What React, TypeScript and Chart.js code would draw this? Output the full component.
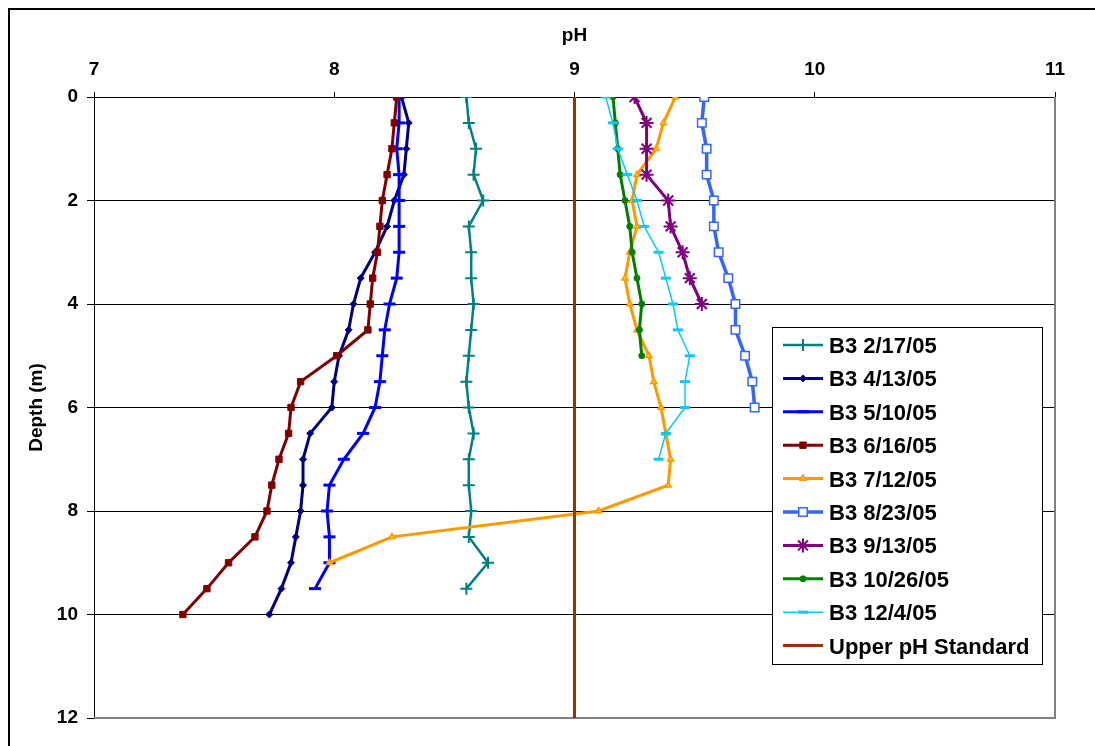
import React, { useEffect, useRef } from 'react';
import { Chart, registerables } from 'chart.js';
import { drawPoint } from 'chart.js/helpers';

Chart.register(...registerables);

// Depths (m) sampled every 0.5 m
const DEPTHS = [0, 0.5, 1, 1.5, 2, 2.5, 3, 3.5, 4, 4.5, 5, 5.5, 6, 6.5, 7, 7.5, 8, 8.5, 9, 9.5, 10];

const PH_0217 = [8.55, 8.56, 8.59, 8.58, 8.62, 8.56, 8.57, 8.57, 8.58, 8.57, 8.56, 8.55, 8.56, 8.58, 8.56, 8.56, 8.57, 8.56, 8.64, 8.55];
const PH_0413 = [8.28, 8.31, 8.30, 8.29, 8.25, 8.22, 8.17, 8.11, 8.08, 8.06, 8.02, 8.00, 7.99, 7.90, 7.87, 7.87, 7.86, 7.84, 7.82, 7.78, 7.73];
const PH_0510 = [8.27, 8.27, 8.26, 8.27, 8.27, 8.27, 8.27, 8.26, 8.23, 8.21, 8.20, 8.19, 8.17, 8.12, 8.04, 7.98, 7.97, 7.98, 7.98, 7.92];
const PH_0616 = [8.26, 8.25, 8.24, 8.22, 8.20, 8.19, 8.18, 8.16, 8.15, 8.14, 8.01, 7.86, 7.82, 7.81, 7.77, 7.74, 7.72, 7.67, 7.56, 7.47, 7.37];
const PH_0712 = [9.42, 9.37, 9.34, 9.26, 9.24, 9.26, 9.23, 9.21, 9.23, 9.26, 9.31, 9.33, 9.36, 9.38, 9.40, 9.39, 9.10, 8.24, 7.98];
const PH_0823 = [9.54, 9.53, 9.55, 9.55, 9.58, 9.58, 9.60, 9.64, 9.67, 9.67, 9.71, 9.74, 9.75];
const PH_0913 = [9.25, 9.30, 9.30, 9.30, 9.39, 9.40, 9.45, 9.48, 9.53];
const PH_1026 = [9.16, 9.17, 9.18, 9.19, 9.21, 9.23, 9.24, 9.26, 9.28, 9.27, 9.28];
const PH_1204 = [9.13, 9.16, 9.18, 9.22, 9.26, 9.29, 9.35, 9.38, 9.41, 9.43, 9.48, 9.46, 9.46, 9.38, 9.35];

const STANDARD_PH = [9, 9];
const STANDARD_DEPTH = [0, 12];

const LABELS = [
  'B3 2/17/05', 'B3 4/13/05', 'B3 5/10/05', 'B3 6/16/05', 'B3 7/12/05',
  'B3 8/23/05', 'B3 9/13/05', 'B3 10/26/05', 'B3 12/4/05', 'Upper pH Standard',
];

const X_TICKS = [7, 8, 9, 10, 11];
const Y_TICKS = [0, 2, 4, 6, 8, 10, 12];

const FONT = '"Liberation Sans", Arial, Helvetica, sans-serif';

const toPts = (ph: number[], depths: number[]) => ph.map((v, i) => ({ x: v, y: depths[i] }));

const legendPlugin = {
  id: 'boxLegend',
  afterDraw(chart: any) {
    const ctx = chart.ctx as CanvasRenderingContext2D;
    ctx.save();
    const bx = 762, by = 317, bw = 270, bh = 337;
    ctx.fillStyle = '#fff';
    ctx.fillRect(bx, by, bw, bh);
    ctx.strokeStyle = '#000';
    ctx.lineWidth = 1;
    ctx.strokeRect(bx + 0.5, by + 0.5, bw, bh);
    chart.data.datasets.forEach((ds: any, i: number) => {
      const cy = 335 + i * 33.4;
      ctx.strokeStyle = ds.borderColor;
      ctx.lineWidth = ds.borderWidth;
      ctx.beginPath();
      ctx.moveTo(773, cy);
      ctx.lineTo(813, cy);
      ctx.stroke();
      if (ds.pointRadius > 0) {
        ctx.fillStyle = ds.pointBackgroundColor;
        ctx.strokeStyle = ds.pointBorderColor;
        ctx.lineWidth = ds.pointBorderWidth;
        drawPoint(ctx, { pointStyle: ds.pointStyle, radius: ds.pointRadius, borderWidth: ds.pointBorderWidth, rotation: 0 } as any, 793, cy);
      }
      ctx.fillStyle = '#000';
      ctx.font = `bold 22px ${FONT}`;
      ctx.textBaseline = 'alphabetic';
      ctx.textAlign = 'left';
      ctx.fillText(ds.label, 819, cy + 8);
    });
    ctx.restore();
  },
};

const framePlugin = {
  id: 'frame',
  beforeDatasetsDraw(chart: any) {
    const { ctx, chartArea } = chart;
    ctx.save();
    ctx.strokeStyle = '#808080';
    ctx.lineWidth = 2;
    ctx.beginPath();
    ctx.moveTo(chartArea.right, chartArea.top);
    ctx.lineTo(chartArea.right, chartArea.bottom);
    ctx.lineTo(chartArea.left, chartArea.bottom);
    ctx.stroke();
    ctx.restore();
  },
};

export default function App() {
  const ref = useRef<HTMLCanvasElement>(null);

  useEffect(() => {
    const mk = (i: number, data: any[], style: any) => ({
      label: LABELS[i],
      data,
      showLine: true,
      tension: 0,
      order: 9 - i,
      ...style,
    });

    const datasets = [
      mk(0, toPts(PH_0217, DEPTHS), {
        borderColor: '#008080', borderWidth: 2.5, pointStyle: 'cross', pointRadius: 6,
        pointBorderColor: '#008080', pointBackgroundColor: '#008080', pointBorderWidth: 2,
      }),
      mk(1, toPts(PH_0413, DEPTHS), {
        borderColor: '#000080', borderWidth: 3, pointStyle: 'rectRot', pointRadius: 3.5,
        pointBorderColor: '#000080', pointBackgroundColor: '#000080', pointBorderWidth: 1,
      }),
      mk(2, toPts(PH_0510, DEPTHS), {
        borderColor: '#0000FF', borderWidth: 3, pointStyle: 'line', pointRadius: 6,
        pointBorderColor: '#0000FF', pointBackgroundColor: '#0000FF', pointBorderWidth: 3,
      }),
      mk(3, toPts(PH_0616, DEPTHS), {
        borderColor: '#800000', borderWidth: 3, pointStyle: 'rect', pointRadius: 4.5,
        pointBorderColor: '#800000', pointBackgroundColor: '#800000', pointBorderWidth: 1,
      }),
      mk(4, toPts(PH_0712, DEPTHS), {
        borderColor: '#FF9900', borderWidth: 3, pointStyle: 'triangle', pointRadius: 3.5,
        pointBorderColor: '#FF9900', pointBackgroundColor: '#FFCC00', pointBorderWidth: 1.5,
      }),
      mk(5, toPts(PH_0823, DEPTHS), {
        borderColor: '#3366FF', borderWidth: 3.5, pointStyle: 'rect', pointRadius: 6,
        pointBorderColor: '#3366FF', pointBackgroundColor: '#FFFFFF', pointBorderWidth: 1.5,
      }),
      mk(6, toPts(PH_0913, DEPTHS), {
        borderColor: '#800080', borderWidth: 3, pointStyle: 'star', pointRadius: 7,
        pointBorderColor: '#800080', pointBackgroundColor: '#800080', pointBorderWidth: 2,
      }),
      mk(7, toPts(PH_1026, DEPTHS), {
        borderColor: '#008000', borderWidth: 3, pointStyle: 'circle', pointRadius: 3,
        pointBorderColor: '#008000', pointBackgroundColor: '#008000', pointBorderWidth: 1,
      }),
      mk(8, toPts(PH_1204, DEPTHS), {
        borderColor: '#00CCFF', borderWidth: 1.5, pointStyle: 'line', pointRadius: 5,
        pointBorderColor: '#00CCFF', pointBackgroundColor: '#00CCFF', pointBorderWidth: 3,
      }),
      mk(9, toPts(STANDARD_PH, STANDARD_DEPTH), {
        borderColor: '#993300', borderWidth: 3, pointRadius: 0,
        pointBorderColor: '#993300', pointBackgroundColor: '#993300', pointBorderWidth: 0,
      }),
    ];

    const tickFont = { family: FONT, size: 19, weight: 'bold' as const };

    const chart = new Chart(ref.current!, {
      type: 'scatter',
      data: { datasets },
      options: {
        responsive: false,
        animation: false,
        devicePixelRatio: 1,
        layout: { padding: { left: 0, top: 0, right: 40, bottom: 28 } },
        plugins: { legend: { display: false }, tooltip: { enabled: false } },
        scales: {
          x: {
            type: 'linear',
            position: 'top',
            min: 7,
            max: 11,
            afterFit: (s: any) => { s.height = 87; },
            afterBuildTicks: (s: any) => { s.ticks = X_TICKS.map((v) => ({ value: v })); },
            ticks: { font: tickFont, color: '#000', padding: 11, maxRotation: 0 },
            grid: { drawOnChartArea: false, drawTicks: true, tickLength: 5, color: '#000' },
            border: { display: true, color: '#000', width: 1 },
            title: { display: true, text: 'pH', color: '#000', font: tickFont, padding: { top: 14, bottom: 0 } },
          },
          y: {
            type: 'linear',
            position: 'left',
            reverse: true,
            min: 0,
            max: 12,
            afterFit: (s: any) => { s.width = 84; },
            afterBuildTicks: (s: any) => { s.ticks = Y_TICKS.map((v) => ({ value: v })); },
            ticks: { font: tickFont, color: '#000', padding: 9 },
            grid: { color: '#000', lineWidth: 1, tickLength: 7, drawTicks: true },
            border: { display: true, color: '#000', width: 1 },
            title: { display: true, text: 'Depth (m)', color: '#000', font: tickFont, padding: { top: 15, bottom: 0 } },
          },
        },
      } as any,
      plugins: [framePlugin, legendPlugin],
    });
    return () => chart.destroy();
  }, []);

  return (
    <div
      style={{
        position: 'fixed', left: 8, top: 8, width: 1087, height: 738, overflow: 'hidden',
        borderLeft: '2px solid #000', borderTop: '2px solid #000', background: '#fff', boxSizing: 'border-box',
      }}
    >
      <canvas ref={ref} width={1085} height={736} style={{ display: 'block', width: 1085, height: 736 }} />
    </div>
  );
}
